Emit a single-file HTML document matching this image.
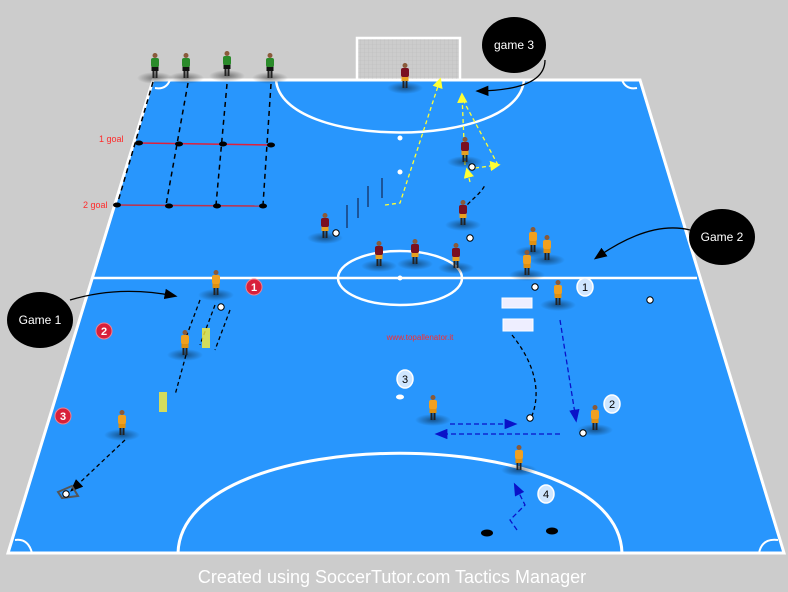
<!DOCTYPE html>
<html><head><meta charset="utf-8"><style>
html,body{margin:0;padding:0;background:#cccccc;}
svg{display:block;font-family:"Liberation Sans",sans-serif;}
</style></head><body>
<svg width="788" height="592" viewBox="0 0 788 592">
<defs>
<radialGradient id="sh"><stop offset="0" stop-color="#000" stop-opacity="0.45"/><stop offset="1" stop-color="#000" stop-opacity="0"/></radialGradient>
<marker id="ay" markerWidth="8" markerHeight="8" refX="6" refY="4" orient="auto"><path d="M0,0 L8,4 L0,8 z" fill="#ffff33"/></marker>
<marker id="ab" markerWidth="10" markerHeight="8" refX="8" refY="4" orient="auto"><path d="M0,0 L10,4 L0,8 z" fill="#0a12c8"/></marker>
<marker id="ak" markerWidth="10" markerHeight="8" refX="8" refY="4" orient="auto"><path d="M0,0 L10,4 L0,8 z" fill="#000"/></marker>
<pattern id="net" width="4" height="4" patternUnits="userSpaceOnUse"><path d="M0,0 H4 M0,0 V4" stroke="#bbb" stroke-width="0.6"/></pattern>
</defs>
<rect width="788" height="592" fill="#cccccc"/>
<g>
<polygon points="153,80 640,80 784,553 8,553" fill="#2896fd" stroke="#fff" stroke-width="3"/>
<line x1="93" y1="278" x2="697" y2="278" stroke="#fff" stroke-width="2.5"/>
<ellipse cx="400" cy="278" rx="62" ry="27" fill="none" stroke="#fff" stroke-width="2.5"/>
<circle cx="400" cy="278" r="2.5" fill="#fff"/>
<path d="M276,80 C282,150 518,150 524,80" fill="none" stroke="#fff" stroke-width="2.5"/>
<circle cx="400" cy="138" r="2.5" fill="#fff"/>
<circle cx="400" cy="172" r="2.5" fill="#fff"/>
<path d="M178,553 C182,420 618,420 622,553" fill="none" stroke="#fff" stroke-width="3"/>
<ellipse cx="400" cy="397" rx="4" ry="2.5" fill="#fff"/>
<path d="M155,88 Q166,90 170,80" fill="none" stroke="#fff" stroke-width="2"/>
<path d="M622,80 Q626,90 637,88" fill="none" stroke="#fff" stroke-width="2"/>
<path d="M15,540 Q28,538 32,553" fill="none" stroke="#fff" stroke-width="2"/>
<path d="M759,553 Q762,538 778,540" fill="none" stroke="#fff" stroke-width="2"/>
</g>
<g>
<rect x="357" y="38" width="103" height="42" fill="url(#net)" stroke="#fff" stroke-width="2.5"/>
</g>
<g stroke="#000" stroke-width="1.5" stroke-dasharray="5,4" fill="none">
<line x1="153" y1="82" x2="117" y2="205"/>
<line x1="188" y1="83" x2="166" y2="205"/>
<line x1="227" y1="84" x2="216" y2="205"/>
<line x1="271" y1="84" x2="263" y2="205"/>
</g>
<line x1="139" y1="143" x2="272" y2="145" stroke="#e0203a" stroke-width="1.5"/>
<line x1="117" y1="205" x2="263" y2="206" stroke="#c0304a" stroke-width="1.5"/>
<g fill="#000">
<ellipse cx="139" cy="143" rx="4" ry="2.5"/><ellipse cx="179" cy="144" rx="4" ry="2.5"/><ellipse cx="223" cy="144" rx="4" ry="2.5"/><ellipse cx="271" cy="145" rx="4" ry="2.5"/>
<ellipse cx="117" cy="205" rx="4" ry="2.5"/><ellipse cx="169" cy="206" rx="4" ry="2.5"/><ellipse cx="217" cy="206" rx="4" ry="2.5"/><ellipse cx="263" cy="206" rx="4" ry="2.5"/>
<ellipse cx="487" cy="533" rx="6" ry="3.5"/><ellipse cx="552" cy="531" rx="6" ry="3.5"/>
</g>
<text x="99" y="142" font-size="9" fill="#ff2a2a">1 goal</text>
<text x="83" y="208" font-size="9" fill="#ff2a2a">2 goal</text>
<g stroke="#113" stroke-width="1">
<line x1="347" y1="205" x2="347" y2="228"/><line x1="358" y1="198" x2="358" y2="218"/><line x1="368" y1="186" x2="368" y2="207"/><line x1="382" y1="178" x2="382" y2="198"/>
</g>
<g fill="none" stroke="#ffff33" stroke-width="1.3" stroke-dasharray="4,3">
<path d="M385,205 L400,203 L440,80" marker-end="url(#ay)"/>
<path d="M465,165 L462,95" marker-end="url(#ay)"/>
<path d="M470,182 L467,170" marker-end="url(#ay)"/>
<path d="M475,168 L498,165" marker-end="url(#ay)"/>
<path d="M498,165 L463,100"/>
</g>
<g fill="none" stroke="#000" stroke-width="1.3" stroke-dasharray="4,3">
<path d="M463,210 C470,200 480,195 485,185"/>
<path d="M200,300 L185,340"/><path d="M215,305 L200,345"/><path d="M230,310 L215,350"/>
<path d="M186,355 L175,395"/><path d="M125,440 L72,490" marker-end="url(#ak)"/>
<path d="M512,335 C540,370 540,400 530,420"/>
</g>
<g fill="none" stroke="#0a12c8" stroke-width="1.3" stroke-dasharray="5,3">
<path d="M560,320 L576,420" marker-end="url(#ab)"/>
<path d="M450,424 L515,424" marker-end="url(#ab)"/>
<path d="M560,434 L437,434" marker-end="url(#ab)"/>
<path d="M517,530 L510,520 L525,505 L515,485" marker-end="url(#ab)"/>
</g>
<g>
<rect x="502" y="298" width="30" height="10" fill="#eef" stroke="#fff"/>
<rect x="503" y="319" width="30" height="12" fill="#eef" stroke="#fff"/>
<path d="M58,492 L72,486 L78,496 L62,498 z" fill="none" stroke="#555" stroke-width="2"/>
<rect x="202" y="328" width="8" height="20" fill="#ffee33" opacity="0.8"/>
<rect x="159" y="392" width="8" height="20" fill="#ffee33" opacity="0.8"/>
</g>
<g id="players"></g>
<g id="labels"></g>
<text x="420" y="340" font-size="8" fill="#ff2a2a" text-anchor="middle">www.topallenator.it</text>
<g>
<path d="M545,60 Q545,90 478,91" fill="none" stroke="#000" stroke-width="1.3" marker-end="url(#ak)"/>
<ellipse cx="514" cy="45" rx="32" ry="28" fill="#000"/>
<text x="514" y="49" font-size="12" fill="#fff" text-anchor="middle">game 3</text>
<path d="M690,230 Q650,220 596,258" fill="none" stroke="#000" stroke-width="1.3" marker-end="url(#ak)"/>
<ellipse cx="722" cy="237" rx="33" ry="28" fill="#000"/>
<text x="722" y="241" font-size="12" fill="#fff" text-anchor="middle">Game 2</text>
<path d="M70,300 Q120,285 175,296" fill="none" stroke="#000" stroke-width="1.3" marker-end="url(#ak)"/>
<ellipse cx="40" cy="320" rx="33" ry="28" fill="#000"/>
<text x="40" y="324" font-size="12" fill="#fff" text-anchor="middle">Game 1</text>
</g>
<text x="392" y="583" font-size="18" fill="#fff" text-anchor="middle">Created using SoccerTutor.com Tactics Manager</text>
</svg>
<script>
const NS='http://www.w3.org/2000/svg';
const greenX=[155,186,227,270], greenY=[68,68,66,68];
const redX=[405,465,463,325,379,415,456], redY=[78,152,215,228,256,254,258];
const orangeX=[216,185,122,433,595,519,558,533,547,527], orangeY=[285,345,425,410,420,460,295,242,250,265];
const ballX=[221,336,472,470,535,530,583,650,66], ballY=[307,233,167,238,287,418,433,300,494];
const redNums=['1','2','3'], redNumX=[254,104,63], redNumY=[287,331,416];
const blueNums=['1','2','3','4'], blueNumX=[585,612,405,546], blueNumY=[287,404,379,494];
const pg=document.getElementById('players');
function mk(t,a){const e=document.createElementNS(NS,t);for(const k in a)e.setAttribute(k,a[k]);return e;}
function player(x,y,shirt,shorts){
  const g=mk('g',{});
  
  
  g.appendChild(mk('ellipse',{cx:x,cy:y+10,rx:18,ry:6,fill:'url(#sh)'}));
  g.appendChild(mk('rect',{x:x-2.5,y:y+1,width:2,height:9,fill:'#222'}));
  g.appendChild(mk('rect',{x:x+0.5,y:y+1,width:2,height:9,fill:'#222'}));
  g.appendChild(mk('rect',{x:x-3.5,y:y-2,width:7,height:5,fill:shorts}));
  g.appendChild(mk('rect',{x:x-4,y:y-10,width:8,height:9,rx:2,fill:shirt}));
  g.appendChild(mk('circle',{cx:x,cy:y-12.5,r:2.5,fill:'#8a5a3a'}));
  pg.appendChild(g);
}
greenX.forEach((x,i)=>player(x,greenY[i],'#2a8a2a','#111'));
redX.forEach((x,i)=>player(x,redY[i],'#7a1020','#e8a020'));
orangeX.forEach((x,i)=>player(x,orangeY[i],'#f0a020','#e09010'));
ballX.forEach((x,i)=>{
  const c=mk('circle',{cx:x,cy:ballY[i],r:3.2,fill:'#fff',stroke:'#000','stroke-width':1});
  
  
  pg.appendChild(c);
});
const lg=document.getElementById('labels');
redNums.forEach((n,i)=>{
  const g=mk('g',{});
  
  
  g.appendChild(mk('circle',{cx:redNumX[i],cy:redNumY[i],r:8,fill:'#d8203a',stroke:'#f08090','stroke-width':1}));
  const t=mk('text',{x:redNumX[i],y:redNumY[i]+4,'font-size':11,'font-weight':'bold',fill:'#fff','text-anchor':'middle'});
  t.textContent=n;g.appendChild(t);lg.appendChild(g);
});
blueNums.forEach((n,i)=>{
  const g=mk('g',{});
  
  
  g.appendChild(mk('ellipse',{cx:blueNumX[i],cy:blueNumY[i],rx:8,ry:9,fill:'#cfe6ff',stroke:'#fff','stroke-width':1.5}));
  const t=mk('text',{x:blueNumX[i],y:blueNumY[i]+4,'font-size':11,fill:'#000','text-anchor':'middle'});
  t.textContent=n;g.appendChild(t);lg.appendChild(g);
});
</script>
</body></html>
